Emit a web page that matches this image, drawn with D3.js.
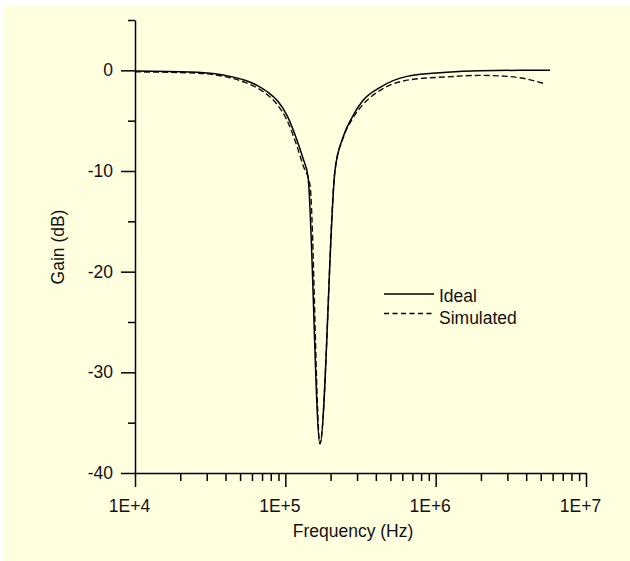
<!DOCTYPE html>
<html>
<head>
<meta charset="utf-8">
<script src="https://cdn.jsdelivr.net/npm/d3@7"></script>
<style>
  body { margin: 0; background: #fff; }
  text { font-family: "Liberation Sans", Arial, sans-serif; fill: #111; }
</style>
</head>
<body>
<div id="chart"></div>
<script>
// frequencies (Hz) and gains (dB)
var idealFreq = [1.0e4, 2.32e4, 3.41e4, 4.29e4, 5.39e4, 6.48e4, 7.67e4, 8.81e4, 1.026e5, 1.196e5, 1.311e5, 1.416e5,
  1.70e5, 2.14e5, 2.42e5, 2.78e5, 3.29e5, 4.27e5, 6.45e5, 1.19e6, 1.97e6, 3.65e6, 5.77e6];
var idealGain = [-0.07, -0.17, -0.35, -0.6, -0.99, -1.49, -2.18, -2.98, -4.47, -6.95, -8.74, -10.6,
  -37.1, -9.93, -6.65, -4.67, -2.98, -1.69, -0.6, -0.2, -0.05, 0, 0];

var simFreq = [1.0e4, 2.32e4, 3.41e4, 4.29e4, 5.39e4, 6.48e4, 7.67e4, 8.81e4, 1.026e5, 1.196e5, 1.311e5, 1.459e5,
  1.70e5, 2.14e5, 2.42e5, 2.78e5, 3.29e5, 4.27e5, 7.08e5, 1.19e6, 1.97e6, 2.99e6, 3.81e6, 5.19e6];
var simGain = [-0.15, -0.25, -0.45, -0.74, -1.19, -1.74, -2.48, -3.38, -4.97, -7.55, -9.43, -11.4,
  -37.1, -9.93, -6.75, -4.87, -3.38, -1.99, -0.89, -0.65, -0.5, -0.6, -0.79, -1.29];

var seriesNames = ["Ideal", "Simulated"];
var yMajor = [-40, -30, -20, -10, 0];
var yLabels = ["-40", "-30", "-20", "-10", "0"];
var yMinor = [-35, -25, -15, -5, 5];
var xMajor = [1e4, 1e5, 1e6, 1e7];
var xLabels = ["1E+4", "1E+5", "1E+6", "1E+7"];

var width = 630, height = 561;
var svg = d3.select("#chart").append("svg")
  .attr("width", width)
  .attr("height", height);

svg.append("rect")
  .attr("x", 4).attr("y", 6)
  .attr("width", width - 4).attr("height", height - 6)
  .attr("fill", "#ffffe0");

var x = d3.scaleLog().domain([1e4, 1e7]).range([135, 586]);
var y = d3.scaleLinear().domain([-40, 5]).range([473, 20]);

// minor ticks on the log axis: 2..9 in each decade
var xMinor = [];
[1e4, 1e5, 1e6].forEach(function (d) {
  for (var k = 2; k < 10; k++) xMinor.push(d * k);
});

var fs = 17.5;

// y axis
svg.append("g")
  .attr("transform", "translate(135,0)")
  .call(d3.axisLeft(y).tickValues(yMajor).tickSize(14).tickSizeOuter(0).tickPadding(8)
    .tickFormat(function (d, i) { return yLabels[i]; }));
svg.append("g")
  .attr("transform", "translate(135,0)")
  .call(d3.axisLeft(y).tickValues(yMinor).tickSize(7).tickSizeOuter(0).tickFormat(""))
  .select(".domain").remove();

// x axis
var xAxis = svg.append("g")
  .attr("transform", "translate(0,473)")
  .call(d3.axisBottom(x).tickValues(xMajor).tickSize(14).tickSizeOuter(0).tickPadding(13)
    .tickFormat(function (d, i) { return xLabels[i]; }));
svg.append("g")
  .attr("transform", "translate(0,473)")
  .call(d3.axisBottom(x).tickValues(xMinor).tickSize(8).tickSizeOuter(0).tickFormat(""))
  .select(".domain").remove();

svg.selectAll(".domain, .tick line")
  .attr("stroke", "#000")
  .attr("stroke-width", 1.5);
svg.selectAll(".tick text")
  .attr("font-family", "Liberation Sans, Arial, sans-serif")
  .attr("font-size", fs)
  .attr("fill", "#111");
xAxis.selectAll(".tick text").attr("dx", -6);

// axis titles
svg.append("text")
  .attr("transform", "translate(63.5,247) rotate(-90)")
  .attr("text-anchor", "middle")
  .attr("font-size", fs)
  .text("Gain (dB)");
svg.append("text")
  .attr("x", 353).attr("y", 537)
  .attr("text-anchor", "middle")
  .attr("font-size", fs)
  .text("Frequency (Hz)");

var line = d3.line()
  .x(function (d) { return x(d[0]); })
  .y(function (d) { return y(d[1]); })
  .curve(d3.curveMonotoneX);

var idealData = d3.zip(idealFreq, idealGain);
var simData = d3.zip(simFreq, simGain);

svg.append("path")
  .datum(simData)
  .attr("fill", "none")
  .attr("stroke", "#111")
  .attr("stroke-width", 1.4)
  .attr("stroke-dasharray", "6,3")
  .attr("d", line);

svg.append("path")
  .datum(idealData)
  .attr("fill", "none")
  .attr("stroke", "#000")
  .attr("stroke-width", 1.5)
  .attr("d", line);

// legend
var legend = svg.append("g").attr("transform", "translate(384,294)");
seriesNames.forEach(function (name, i) {
  legend.append("line")
    .attr("x1", 0).attr("x2", 50)
    .attr("y1", i * 19.5).attr("y2", i * 19.5)
    .attr("stroke", "#000")
    .attr("stroke-width", 1.3)
    .attr("stroke-dasharray", i === 1 ? "5,3.5" : null);
  legend.append("text")
    .attr("x", 55).attr("y", i * 22 + 7.5)
    .attr("font-size", fs)
    .text(name);
});
</script>
</body>
</html>
